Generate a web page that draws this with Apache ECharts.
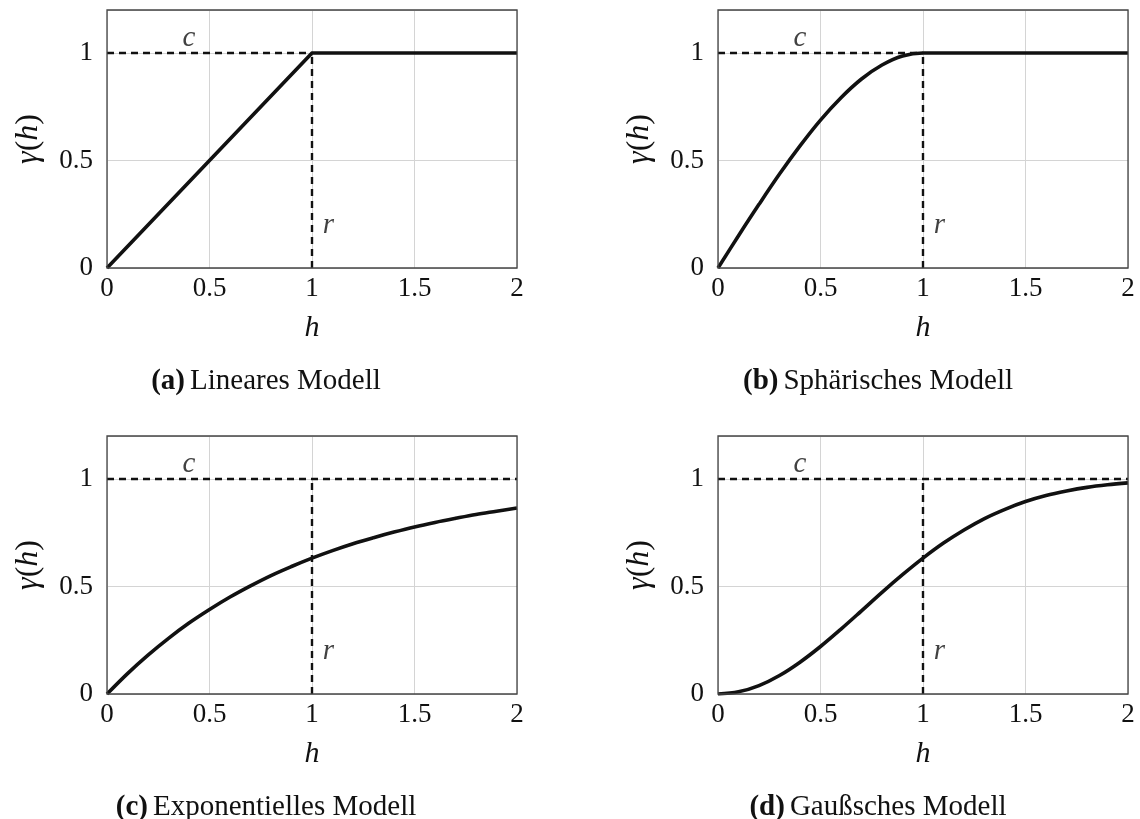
<!DOCTYPE html>
<html>
<head>
<meta charset="utf-8">
<script src="https://cdn.jsdelivr.net/npm/echarts@6/dist/echarts.min.js"></script>
<style>
html,body{margin:0;padding:0;background:#fff;}
#main{width:1140px;height:819px;}
</style>
</head>
<body>
<div id="main"></div>
<script>
// Lag distances h
const hValues = [0,0.1,0.2,0.3,0.4,0.5,0.6,0.7,0.8,0.9,1.0,1.1,1.2,1.3,1.4,1.5,1.6,1.7,1.8,1.9,2.0];
// Semivariogram values
const linearModel = [0,0.1,0.2,0.3,0.4,0.5,0.6,0.7,0.8,0.9,1,1,1,1,1,1,1,1,1,1,1];
const sphericalModel = [0,0.15,0.296,0.437,0.568,0.688,0.792,0.879,0.944,0.986,1,1,1,1,1,1,1,1,1,1,1];
const exponentialModel = [0,0.095,0.181,0.259,0.33,0.393,0.451,0.503,0.551,0.593,0.632,0.667,0.699,0.727,0.753,0.777,0.798,0.817,0.835,0.85,0.865];
const gaussianModel = [0,0.01,0.039,0.086,0.148,0.221,0.302,0.387,0.473,0.555,0.632,0.702,0.763,0.816,0.859,0.895,0.923,0.944,0.961,0.973,0.982];
// Reference lines: sill c and range r
const sillShort = [[0,1],[1,1]];
const sillLong = [[0,1],[2,1]];
const rangeLine = [[1,0],[1,1]];
const cLabelPos = [[0.4,1.07]];
const rLabelPos = [[1.08,0.2]];
// Ticks
const xTicks = [0,0.5,1,1.5,2];
const yTicks = [0,0.5,1];
const captionTags = ['(a)','(b)','(c)','(d)'];
const captionNames = ['Lineares Modell','Sphärisches Modell','Exponentielles Modell','Gaußsches Modell'];

const models = [linearModel, sphericalModel, exponentialModel, gaussianModel];
const sills = [sillShort, sillShort, sillLong, sillLong];
const smoothFlags = [false, true, true, true];

const FONT = 'Liberation Serif';
const lefts = [107, 718, 107, 718];
const tops = [10, 10, 436, 436];
const captionCenters = [261, 873, 261, 873];
const W = 410, H = 258;

const grids = [], xAxes = [], yAxes = [], series = [], titles = [];
for (let i = 0; i < 4; i++) {
  grids.push({left: lefts[i], top: tops[i], width: W, height: H, show: true, borderColor: '#444', borderWidth: 1.3, backgroundColor: 'transparent', z: 5});
  xAxes.push({
    type: 'value', gridIndex: i, min: 0, max: 2, interval: 0.5,
    name: 'h', nameLocation: 'middle', nameGap: 45,
    nameTextStyle: {fontFamily: FONT, fontStyle: 'italic', fontSize: 30, color: '#111'},
    axisLine: {show: false}, axisTick: {show: false},
    axisLabel: {fontFamily: FONT, fontSize: 27, color: '#111', margin: 7,
      formatter: v => xTicks.indexOf(v) >= 0 ? String(v) : ''},
    splitLine: {show: true, lineStyle: {color: '#d4d4d4', width: 1}}
  });
  yAxes.push({
    type: 'value', gridIndex: i, min: 0, max: 1.2, interval: 0.5,
    name: '{i|γ}{u|(}{i|h}{u|)}', nameLocation: 'middle', nameGap: 62,
    nameTextStyle: {fontFamily: FONT, fontSize: 32, color: '#111', rich: {
      i: {fontFamily: FONT, fontStyle: 'italic', fontSize: 32, color: '#111'},
      u: {fontFamily: FONT, fontStyle: 'normal', fontSize: 32, color: '#111'}
    }},
    axisLine: {show: false}, axisTick: {show: false},
    axisLabel: {fontFamily: FONT, fontSize: 27, color: '#111', margin: 14,
      formatter: v => yTicks.indexOf(v) >= 0 ? String(v) : ''},
    splitLine: {show: true, lineStyle: {color: '#d4d4d4', width: 1}}
  });
  const dashStyle = {color: '#111', width: 2.4, type: [7, 5]};
  series.push({type: 'line', xAxisIndex: i, yAxisIndex: i, data: sills[i], symbol: 'none', lineStyle: dashStyle, z: 3, silent: true});
  series.push({type: 'line', xAxisIndex: i, yAxisIndex: i, data: rangeLine, symbol: 'none', lineStyle: dashStyle, z: 3, silent: true});
  series.push({
    type: 'line', xAxisIndex: i, yAxisIndex: i,
    data: hValues.map((h, k) => [h, models[i][k]]),
    symbol: 'none', smooth: smoothFlags[i] ? 0.35 : false,
    lineStyle: {color: '#111', width: 3.6}, z: 4, silent: true
  });
  series.push({
    type: 'scatter', xAxisIndex: i, yAxisIndex: i, data: cLabelPos, symbolSize: 0,
    label: {show: true, formatter: 'c', position: 'inside', fontFamily: FONT, fontStyle: 'italic', fontSize: 29, color: '#111'}, silent: true
  });
  series.push({
    type: 'scatter', xAxisIndex: i, yAxisIndex: i, data: rLabelPos, symbolSize: 0,
    label: {show: true, formatter: 'r', position: 'inside', fontFamily: FONT, fontStyle: 'italic', fontSize: 29, color: '#111'}, silent: true
  });
  titles.push({
    text: '{b|' + captionTags[i] + '} {n|' + captionNames[i] + '}',
    left: captionCenters[i], top: tops[i] + 352, textAlign: 'center',
    textStyle: {fontWeight: 'normal', rich: {
      b: {fontFamily: FONT, fontWeight: 'bold', fontSize: 29, color: '#111'},
      n: {fontFamily: FONT, fontWeight: 'normal', fontSize: 29, color: '#111'}
    }}
  });
}

const chart = echarts.init(document.getElementById('main'), null, {renderer: 'canvas'});
chart.setOption({
  animation: false,
  backgroundColor: '#fff',
  title: titles,
  grid: grids,
  xAxis: xAxes,
  yAxis: yAxes,
  series: series
});
</script>
</body>
</html>
